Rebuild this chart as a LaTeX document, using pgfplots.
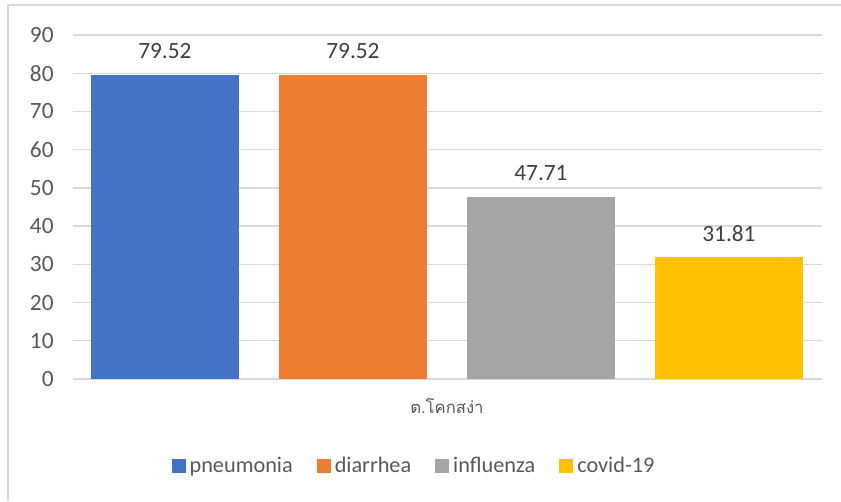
\documentclass[border=0pt]{standalone}
\usepackage{pgfplots}
\pgfplotsset{compat=1.18}
\usepackage{fontspec}
\setmainfont{Carlito}
\newfontfamily\thaifont[Script=Thai]{Loma}
\definecolor{cBlue}{HTML}{4472C4}
\definecolor{cOrange}{HTML}{ED7D31}
\definecolor{cGray}{HTML}{A5A5A5}
\definecolor{cGold}{HTML}{FFC000}
\definecolor{txt}{HTML}{595959}
\definecolor{lbl}{HTML}{404040}
\definecolor{gridc}{HTML}{D9D9D9}
\begin{document}
\begin{tikzpicture}
\path[use as bounding box] (0,0) rectangle (630.75pt,375.75pt);
\draw[line width=1pt, gridc] (6pt,0) -- (6pt,372pt) -- (630.75pt,372pt);
\begin{axis}[
  at={(54.75pt,91.5pt)}, anchor=south west,
  scale only axis, width=561.75pt, height=258pt,
  ybar, bar width=0.787, bar shift=0pt,
  xmin=-0.489, xmax=3.495, ymin=0, ymax=90,
  ytick={0,10,...,90},
  xtick={1.5}, xticklabels={{\thaifont ต.โคกสง่า}},
  ymajorgrids, grid style={draw=gridc, line width=1pt},
  axis line style={draw=none}, major tick length=0pt,
  /pgf/number format/assume math mode=true,
  yticklabel style={font=\fontsize{17.5}{20}\selectfont, text=txt, xshift=-11pt},
  xticklabel style={font=\fontsize{12.5}{15}\selectfont, text=txt, yshift=-11pt},
  nodes near coords,
  nodes near coords style={font=\fontsize{17.5}{20}\selectfont, text=lbl, yshift=8.5pt,
    /pgf/number format/.cd, fixed, precision=2, zerofill, assume math mode=true},
  legend style={draw=none, fill=none, legend columns=4, at={(0.4566,-0.2529)}, anchor=center,
    font=\fontsize{16.7}{19}\selectfont, text=txt,
    /tikz/every even column/.append style={column sep=15pt},
    nodes={inner xsep=3pt}},
  legend image code/.code={\fill[#1] (0pt,-5.25pt) rectangle (10.5pt,5.25pt);},
]
\addplot[fill=cBlue, draw=none] coordinates {(0,79.52)};
\addlegendentry{pneumonia}
\addplot[fill=cOrange, draw=none] coordinates {(1,79.52)};
\addlegendentry{diarrhea}
\addplot[fill=cGray, draw=none] coordinates {(2,47.71)};
\addlegendentry{influenza}
\addplot[fill=cGold, draw=none] coordinates {(3,31.81)};
\addlegendentry{covid-19}
\end{axis}
\end{tikzpicture}
\end{document}
